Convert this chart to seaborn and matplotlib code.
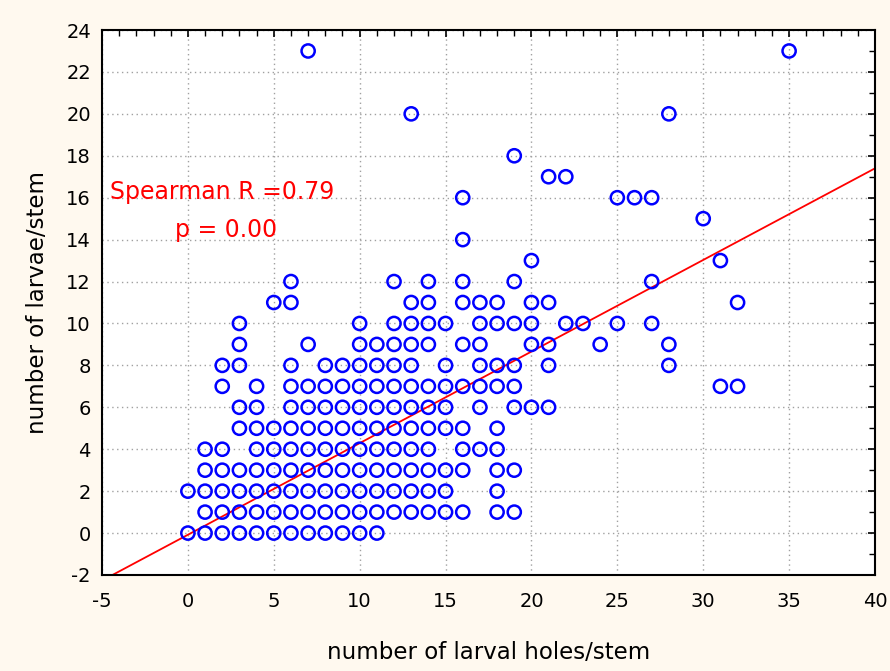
import numpy as np
import pandas as pd
import matplotlib
matplotlib.use("Agg")
import matplotlib.pyplot as plt
from matplotlib.ticker import MultipleLocator
import seaborn as sns

# number of larval holes/stem observed at each larvae/stem level
holes_y0 = [0, 1, 2, 3, 4, 5, 6, 7, 8, 9, 10, 11]
holes_y1 = [1, 2, 3, 4, 5, 6, 7, 8, 9, 10, 11, 12, 13, 14, 15, 16, 18, 19]
holes_y2 = [0, 1, 2, 3, 4, 5, 6, 7, 8, 9, 10, 11, 12, 13, 14, 15, 18]
holes_y3 = [1, 2, 3, 4, 5, 6, 7, 8, 9, 10, 11, 12, 13, 14, 15, 16, 18, 19]
holes_y4 = [1, 2, 4, 5, 6, 7, 8, 9, 10, 11, 12, 13, 14, 16, 17, 18]
holes_y5 = [3, 4, 5, 6, 7, 8, 9, 10, 11, 12, 13, 14, 15, 16, 18]
holes_y6 = [3, 4, 6, 7, 8, 9, 10, 11, 12, 13, 14, 15, 17, 19, 20, 21]
holes_y7 = [2, 4, 6, 7, 8, 9, 10, 11, 12, 13, 14, 15, 16, 17, 18, 19, 31, 32]
holes_y8 = [2, 3, 6, 8, 9, 10, 11, 12, 13, 15, 17, 18, 19, 21, 28]
holes_y9 = [3, 7, 10, 11, 12, 13, 14, 16, 17, 20, 21, 24, 28]
holes_y10 = [3, 10, 12, 13, 14, 15, 17, 18, 19, 20, 22, 23, 25, 27]
holes_y11 = [5, 6, 13, 14, 16, 17, 18, 20, 21, 32]
holes_y12 = [6, 12, 14, 16, 19, 27]
holes_y13 = [20, 31]
holes_y14 = [16]
holes_y15 = [30]
holes_y16 = [16, 25, 26, 27]
holes_y17 = [21, 22]
holes_y18 = [19]
holes_y20 = [13, 28]
holes_y23 = [7, 35]

larvae_levels = [0, 1, 2, 3, 4, 5, 6, 7, 8, 9, 10, 11, 12, 13, 14, 15, 16, 17, 18, 20, 23]
holes_rows = [holes_y0, holes_y1, holes_y2, holes_y3, holes_y4, holes_y5, holes_y6,
              holes_y7, holes_y8, holes_y9, holes_y10, holes_y11, holes_y12, holes_y13,
              holes_y14, holes_y15, holes_y16, holes_y17, holes_y18, holes_y20, holes_y23]

# fitted line as drawn
fit_intercept = -0.08
fit_slope = 0.437
fit_x = [-5, 40]

x_ticks = [-5, 0, 5, 10, 15, 20, 25, 30, 35, 40]
y_ticks = [-2, 0, 2, 4, 6, 8, 10, 12, 14, 16, 18, 20, 22, 24]

xs, ys = [], []
for lvl, row in zip(larvae_levels, holes_rows):
    for h in row:
        xs.append(h)
        ys.append(lvl)
df = pd.DataFrame({"holes": xs, "larvae": ys})

sns.set_theme(style="white")
plt.rcParams['font.family'] = ['DejaVu Sans']
plt.rcParams['axes.unicode_minus'] = False
plt.rcParams['text.color'] = 'black'
plt.rcParams['axes.labelcolor'] = 'black'
plt.rcParams['xtick.color'] = 'black'
plt.rcParams['ytick.color'] = 'black'

bg = "#FFF9EF"
fig = plt.figure(figsize=(8.9, 6.71), dpi=100, facecolor=bg)
ax = fig.add_axes([102 / 890, 1 - 575 / 671, (875 - 102) / 890, (575 - 30) / 671])
ax.set_facecolor("white")

ax.set_xlim(-5, 40)
ax.set_ylim(-2, 24)
ax.set_xticks(x_ticks)
ax.set_yticks(y_ticks)
ax.xaxis.set_minor_locator(MultipleLocator(1))
ax.yaxis.set_minor_locator(MultipleLocator(1))
ax.grid(True, which="major", linestyle=(0, (1, 2.5)), color="#a0a0a0", linewidth=1.0)
ax.set_axisbelow(True)

fy = [fit_intercept + fit_slope * v for v in fit_x]
ax.plot(fit_x, fy, color="red", linewidth=1.3, zorder=2)

sns.scatterplot(data=df, x="holes", y="larvae", ax=ax, marker="o", s=90,
                facecolors="none", edgecolor="#0000FF", linewidth=1.8, zorder=3)

for sp in ax.spines.values():
    sp.set_color("black")
    sp.set_linewidth(1.5)

ax.tick_params(which="both", direction="in", top=True, right=True, color="black")
ax.tick_params(which="major", length=5, width=1.2, labelsize=14, pad=12)
ax.tick_params(axis="y", which="major", pad=8)
ax.tick_params(which="minor", length=4, width=1.0)

ax.set_xlabel("number of larval holes/stem", fontsize=16.5, labelpad=22)
ax.set_ylabel("number of larvae/stem", fontsize=16.5, labelpad=12)

ax.text(-4.55, 16.27, "Spearman R =0.79", color="red", fontsize=17, va="center", ha="left")
ax.text(-0.75, 14.45, "p = 0.00", color="red", fontsize=17, va="center", ha="left")

fig.savefig("out.png", dpi=100, facecolor=bg)
